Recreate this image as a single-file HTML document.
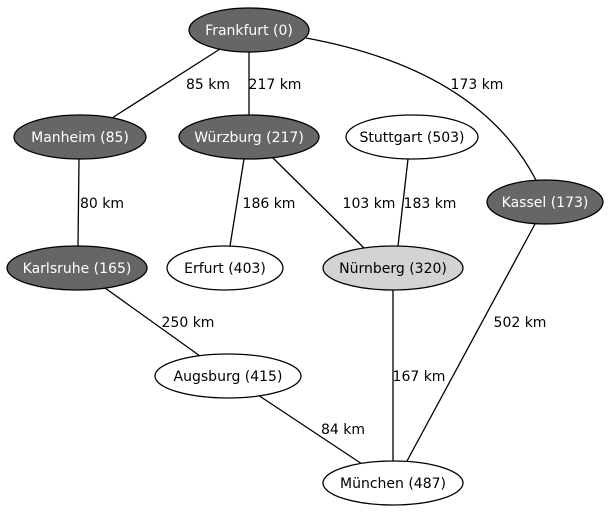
<!DOCTYPE html>
<html><head><meta charset="utf-8"><style>
html,body{margin:0;padding:0;background:#fff;}
svg{display:block;}
text{font-family:"DejaVu Sans","Liberation Sans",sans-serif;font-size:14px;}
</style></head><body>
<svg width="610" height="512" viewBox="0 0 610 512" xmlns="http://www.w3.org/2000/svg">
<g stroke="#000" stroke-width="1.3" fill="none">
<line x1="220" y1="49" x2="112" y2="118"/>
<line x1="249" y1="52" x2="249" y2="115"/>
<path d="M306,38 Q480,70 537,182"/>
<line x1="79" y1="159" x2="78" y2="246"/>
<line x1="244" y1="159" x2="230" y2="246"/>
<line x1="272" y1="157" x2="365" y2="249"/>
<line x1="408" y1="159" x2="398" y2="246"/>
<line x1="535" y1="224" x2="407" y2="461"/>
<line x1="105" y1="288" x2="200" y2="356"/>
<line x1="258" y1="395" x2="362" y2="464"/>
<line x1="393" y1="290" x2="393" y2="461"/>
</g>
<g stroke="#000" stroke-width="1.3">
<ellipse cx="249" cy="30" rx="60" ry="22" fill="#666"/>
<ellipse cx="80" cy="137" rx="66" ry="22" fill="#666"/>
<ellipse cx="249" cy="137" rx="70" ry="22" fill="#666"/>
<ellipse cx="412" cy="137" rx="66" ry="22" fill="#fff"/>
<ellipse cx="545" cy="202" rx="58" ry="22" fill="#666"/>
<ellipse cx="77" cy="268" rx="70" ry="22" fill="#666"/>
<ellipse cx="225" cy="268" rx="58" ry="22" fill="#fff"/>
<ellipse cx="393" cy="268" rx="70" ry="22" fill="#d3d3d3"/>
<ellipse cx="228" cy="376" rx="73" ry="22" fill="#fff"/>
<ellipse cx="393" cy="483" rx="70" ry="22" fill="#fff"/>
</g>
<g text-anchor="middle">
<text x="249" y="35" fill="#fff">Frankfurt (0)</text>
<text x="80" y="142" fill="#fff">Manheim (85)</text>
<text x="249" y="142" fill="#fff">Würzburg (217)</text>
<text x="412" y="142">Stuttgart (503)</text>
<text x="545" y="207" fill="#fff">Kassel (173)</text>
<text x="77" y="273" fill="#fff">Karlsruhe (165)</text>
<text x="225" y="273">Erfurt (403)</text>
<text x="393" y="273">Nürnberg (320)</text>
<text x="228" y="381">Augsburg (415)</text>
<text x="393" y="488">München (487)</text>
<text x="208" y="89">85 km</text>
<text x="275" y="89">217 km</text>
<text x="477" y="89">173 km</text>
<text x="102" y="208">80 km</text>
<text x="269" y="208">186 km</text>
<text x="369" y="208">103 km</text>
<text x="430" y="208">183 km</text>
<text x="188" y="327">250 km</text>
<text x="520" y="327">502 km</text>
<text x="419" y="381">167 km</text>
<text x="343" y="434">84 km</text>
</g>
</svg>
</body></html>
